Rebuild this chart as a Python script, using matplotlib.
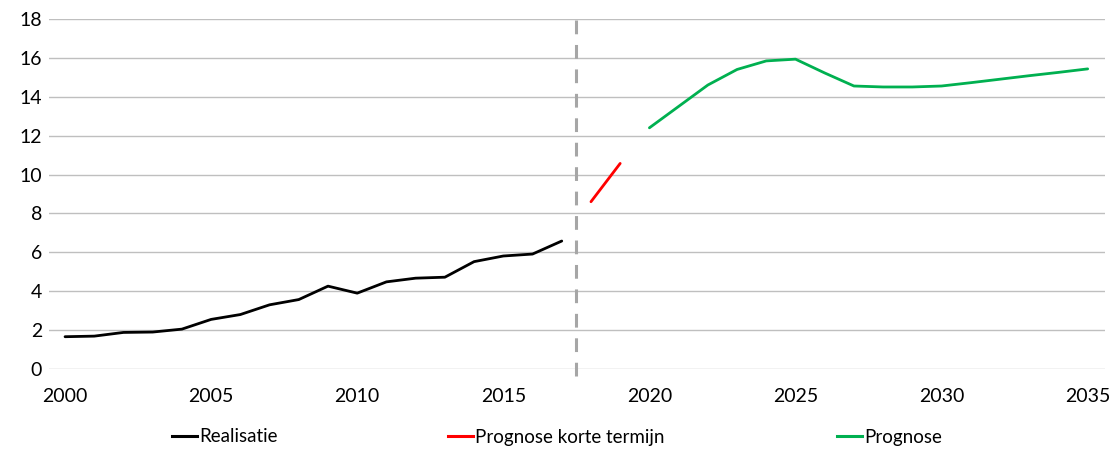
import matplotlib
matplotlib.use("Agg")
import matplotlib.pyplot as plt
from matplotlib.lines import Line2D

plt.rcParams['font.family'] = ['Lato', 'DejaVu Sans']

# realisatie (black)
years_real = [2000, 2001, 2002, 2003, 2004, 2005, 2006, 2007, 2008, 2009,
              2010, 2011, 2012, 2013, 2014, 2015, 2016, 2017]
vals_real = [1.66, 1.69, 1.88, 1.90, 2.05, 2.55, 2.80, 3.30, 3.57, 4.26,
             3.90, 4.48, 4.67, 4.72, 5.52, 5.81, 5.91, 6.58]

# prognose korte termijn (red)
years_short = [2018, 2019]
vals_short = [8.6, 10.57]

# prognose (green)
years_prog = [2020, 2021, 2022, 2023, 2024, 2025, 2026, 2027, 2028, 2029,
              2030, 2031, 2032, 2033, 2034, 2035]
vals_prog = [12.4, 13.5, 14.6, 15.4, 15.84, 15.93, 15.22, 14.55, 14.5, 14.5,
             14.55, 14.72, 14.9, 15.08, 15.25, 15.43]

labels = ['Realisatie', 'Prognose korte termijn', 'Prognose']
colors = ['#000000', '#FF0000', '#00B050']
split_year = 2017.5

fig = plt.figure(figsize=(11.13, 4.5), dpi=100)
ax = fig.add_axes([0.044, 0.18, 0.949, 0.778])

ax.plot(years_real, vals_real, color=colors[0], lw=2.0, solid_capstyle='round')
ax.plot(years_short, vals_short, color=colors[1], lw=2.0, solid_capstyle='round')
ax.plot(years_prog, vals_prog, color=colors[2], lw=2.0, solid_capstyle='round')

# dashed divider between realisation and forecast
ax.plot([split_year, split_year], [-0.35, 18], color='#A6A6A6', lw=2.2,
        dashes=(4.5, 3.5), clip_on=False)

ax.set_xlim(1999.45, 2035.6)
ax.set_ylim(0, 18)
ax.set_yticks(range(0, 19, 2))
ax.set_xticks(range(2000, 2036, 5))
ax.yaxis.grid(True, color='#BFBFBF', lw=1.0)
ax.set_axisbelow(True)
for s in ax.spines.values():
    s.set_visible(False)
ax.tick_params(axis='both', length=0, labelsize=14, colors='#000000')
ax.tick_params(axis='x', pad=14)
ax.tick_params(axis='y', pad=5)

# legend entries spread along the bottom
leg_x = [172, 448, 837]
for lab, col, x in zip(labels, colors, leg_x):
    h = Line2D([], [], color=col, lw=2.2)
    fig.legend([h], [lab], loc='center left', bbox_to_anchor=(x / 1113, 1 - 437 / 450),
               frameon=False, fontsize=13.5, handlelength=1.35, handletextpad=0.1,
               borderpad=0, borderaxespad=0)

fig.savefig('out.png', dpi=100)
